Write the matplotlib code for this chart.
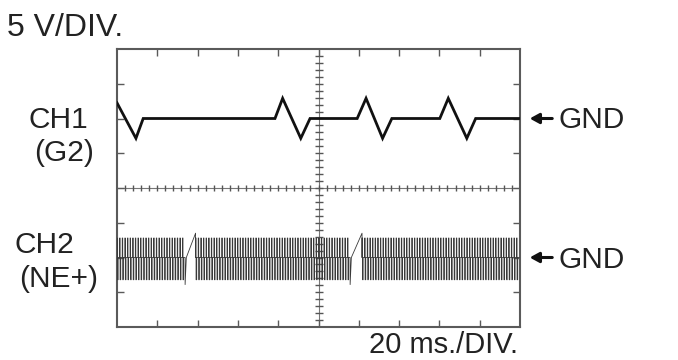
import matplotlib
matplotlib.use('Agg')
import matplotlib.pyplot as plt
import numpy as np

plt.rcParams['font.family'] = ['Liberation Sans', 'DejaVu Sans']

# ---- data (in screen divisions: x 0..10, y 0..8) ----
ch1_x = [0.0, 0.47, 0.65, 3.92, 4.11, 4.56, 4.79, 5.96, 6.18, 6.59, 6.82, 8.01, 8.22, 8.68, 8.90, 10.0]
ch1_y = [6.45, 5.43, 6.0, 6.0, 6.58, 5.43, 6.0, 6.0, 6.58, 5.43, 6.0, 6.0, 6.58, 5.43, 6.0, 6.0]

ch2_gnd = 2.0
ch2_high = 2.56
ch2_low = 1.36
ch2_period = 0.065
ch2_segments = [(0.0, 1.74), (1.95, 5.84), (6.08, 10.0)]
ch2_gap_low = 1.22
ch2_gap_high = 2.70

gnd_levels = [6.0, 2.0]
channel_labels = [("CH1", "(G2)"), ("CH2", "(NE+)")]
volt_label = "5 V/DIV."
time_label = "20 ms./DIV."

W, H = 678, 360
fig = plt.figure(figsize=(W / 100, H / 100), dpi=100)
fx = lambda px: px / W
fy = lambda py: 1 - py / H

ax = fig.add_axes([fx(117), 33 / H, 403 / W, 278 / H])
ax.set_xlim(0, 10)
ax.set_ylim(0, 8)

grid_col = '#5a5a5a'
for s in ax.spines.values():
    s.set_color(grid_col)
    s.set_linewidth(1.5)
ax.set_xticks(range(1, 10))
ax.set_yticks(range(1, 8))
ax.tick_params(direction='in', length=5, width=1, color=grid_col,
               top=True, right=True, labelbottom=False, labelleft=False)

# center graticule lines with fine ticks
ax.axhline(4, color='#777777', lw=0.8, zorder=1)
ax.axvline(5, color='#777777', lw=0.8, zorder=1)
fine_x = np.arange(0.2, 10.0, 0.2)
fine_y = np.arange(0.2, 8.0, 0.2)
ax.plot(fine_x, [4] * len(fine_x), ls='none', marker='|', ms=5, mew=1.0, color='#555555', zorder=1)
ax.plot([5] * len(fine_y), fine_y, ls='none', marker='_', ms=6, mew=1.0, color='#555555', zorder=1)

# CH1 trace
ax.plot(ch1_x, ch1_y, color='#111111', lw=2.0, solid_joinstyle='miter', zorder=3)

# CH2 trace
xs, ys = [], []
for i, (a, b) in enumerate(ch2_segments):
    t = a
    while t + ch2_period <= b + 1e-9:
        xs += [t, t, t + 0.012, t + 0.012, t + 0.028, t + 0.028, t + ch2_period]
        ys += [ch2_gnd, ch2_high, ch2_high, ch2_low, ch2_low, ch2_gnd, ch2_gnd]
        t += ch2_period
    if i < len(ch2_segments) - 1:
        nxt = ch2_segments[i + 1][0]
        xs += [t, t, t + 0.03, nxt, nxt]
        ys += [ch2_gnd, ch2_gap_low, ch2_gnd, ch2_gap_high, ch2_gnd]
ax.plot(xs, ys, color='#3a3a3a', lw=0.6, zorder=3)

# GND markers
for lvl in gnd_levels:
    ax.annotate('', xy=(10.24, lvl), xytext=(10.80, lvl),
                arrowprops=dict(arrowstyle='-|>,head_length=0.55,head_width=0.3',
                                lw=2.2, color='#111111', shrinkA=0, shrinkB=0),
                annotation_clip=False)
tcol = '#222222'
fig.text(fx(559), fy(128), "GND", fontsize=21.5, color=tcol, va='baseline', ha='left')
fig.text(fx(559), fy(268), "GND", fontsize=21.5, color=tcol, va='baseline', ha='left')

# channel labels
fig.text(fx(29), fy(128), channel_labels[0][0], fontsize=21.5, color=tcol, va='baseline')
fig.text(fx(34), fy(161), channel_labels[0][1], fontsize=21.5, color=tcol, va='baseline')
fig.text(fx(14), fy(253), channel_labels[1][0], fontsize=21.5, color=tcol, va='baseline')
fig.text(fx(19), fy(287), channel_labels[1][1], fontsize=21.5, color=tcol, va='baseline')

fig.text(fx(7), fy(36.5), volt_label, fontsize=23, color=tcol, va='baseline')
fig.text(fx(369), fy(353), time_label, fontsize=21, color=tcol, va='baseline')

fig.savefig('out.png', dpi=100, facecolor='white')
